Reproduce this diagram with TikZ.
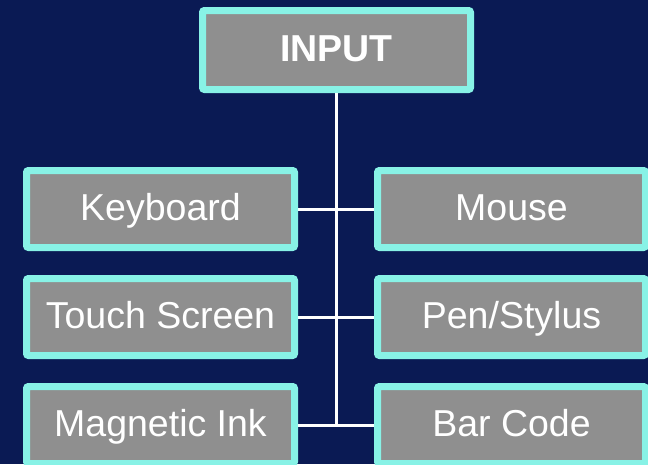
\documentclass[tikz,border=0pt]{standalone}
\usepackage{fontspec}
\setmainfont{Liberation Sans}
\definecolor{navy}{RGB}{10,26,84}
\definecolor{boxgray}{RGB}{143,143,143}
\definecolor{aqua}{RGB}{136,242,230}
\tikzset{
  devbox/.style={draw=aqua, line width=7pt, fill=boxgray, rounded corners=2pt,
    minimum width=268pt, minimum height=77pt, inner sep=0pt, outer sep=3.5pt,
    text=white, font=\fontsize{37.5}{40}\selectfont,
    text height=27pt, text depth=5pt},
  wire/.style={draw=white, line width=3pt}
}
\begin{document}
\begin{tikzpicture}[x=1pt, y=-1pt]
  \useasboundingbox (0,0) rectangle (648,464);
  \fill[navy] (0,0) rectangle (648,464);

  % root
  \node[devbox, minimum height=79pt, font=\fontsize{37.5}{40}\selectfont\bfseries] (input) at (336.5,50) {INPUT};

  % left column
  \node[devbox] (kbd)   at (160.5,209) {Keyboard};
  \node[devbox] (touch) at (160.5,317) {Touch Screen};
  \node[devbox] (ink)   at (160.5,425) {Magnetic Ink};

  % right column
  \node[devbox] (mouse) at (511.5,209) {Mouse};
  \node[devbox] (pen)   at (511.5,317) {Pen/Stylus};
  \node[devbox] (bar)   at (511.5,425) {Bar Code};

  % trunk and branches
  \coordinate (trunkend) at (input.south |- ink.east);
  \draw[wire] (input.south) -- (trunkend);
  \draw[wire] (kbd.east) -- (mouse.west);
  \draw[wire] (touch.east) -- (pen.west);
  \draw[wire] (ink.east) -- (bar.west);
\end{tikzpicture}
\end{document}
